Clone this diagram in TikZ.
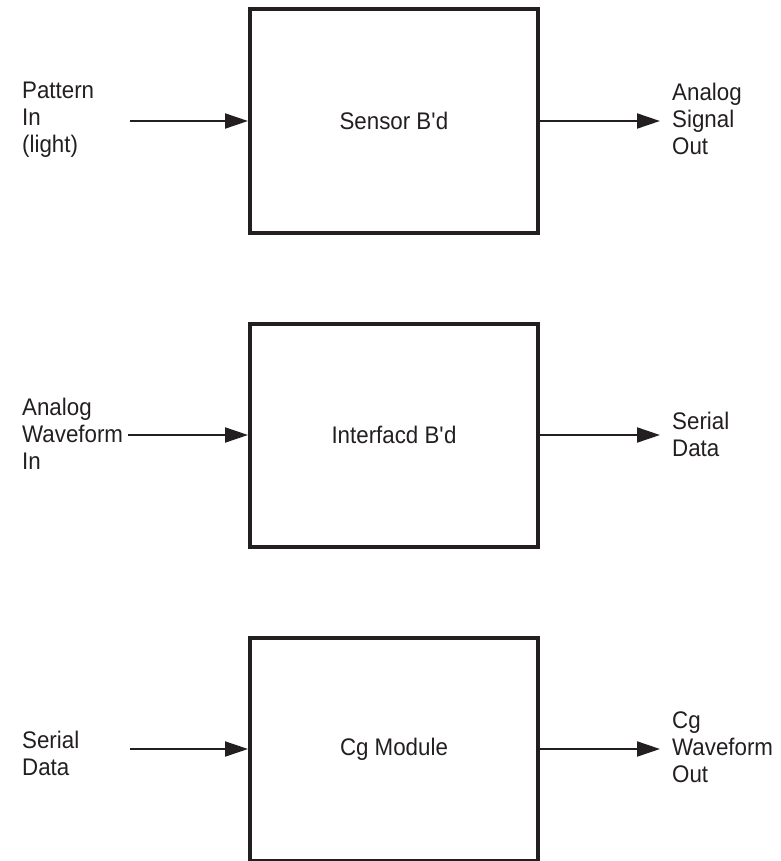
\documentclass[tikz,border=0pt]{standalone}
\usepackage{fontspec}
\setmainfont{Liberation Sans}[FakeStretch=0.93]
\usetikzlibrary{arrows.meta}
\definecolor{ink}{HTML}{231F20}
\begin{document}
\begin{tikzpicture}[x=1pt,y=-1pt,
  blockbox/.style={draw=ink,line width=4pt,minimum width=288pt,minimum height=223pt,inner sep=0pt,font=\fontsize{24}{27}\selectfont,text=ink},
  lbl/.style={anchor=west,align=left,inner sep=0pt,font=\fontsize{24}{27}\selectfont,text=ink},
  sig/.style={draw=ink,line width=2pt,-{Triangle[length=23pt,width=15pt]}}]
\useasboundingbox (0,0) rectangle (780,861);
% blocks
\node[blockbox] (b1) at (394,121) {Sensor B\textquotesingle d};
\node[blockbox] (b2) at (394,435) {Interfacd B\textquotesingle d};
\node[blockbox] (b3) at (394,749) {Cg Module};
% left labels
\node[lbl] (l1) at (22,120) {Pattern\\In\\(light)};
\node[lbl] (l2) at (22,434) {Analog\\Waveform\\In};
\node[lbl] (l3) at (22,753) {Serial\\Data};
% right labels
\node[lbl] (r1) at (672,119) {Analog\\Signal\\Out};
\node[lbl] (r2) at (672,434) {Serial\\Data};
\node[lbl] (r3) at (672,747) {Cg\\Waveform\\Out};
% connector ends
\coordinate (i1) at (130,121);
\coordinate (i2) at (128,435);
\coordinate (i3) at (130,749);
\coordinate (o1) at (660,121);
\coordinate (o2) at (660,435);
\coordinate (o3) at (660,749);
\draw[sig] (i1) -- (b1.west);
\draw[sig] (i2) -- (b2.west);
\draw[sig] (i3) -- (b3.west);
\draw[sig] (b1.east) -- (o1);
\draw[sig] (b2.east) -- (o2);
\draw[sig] (b3.east) -- (o3);
\end{tikzpicture}
\end{document}
